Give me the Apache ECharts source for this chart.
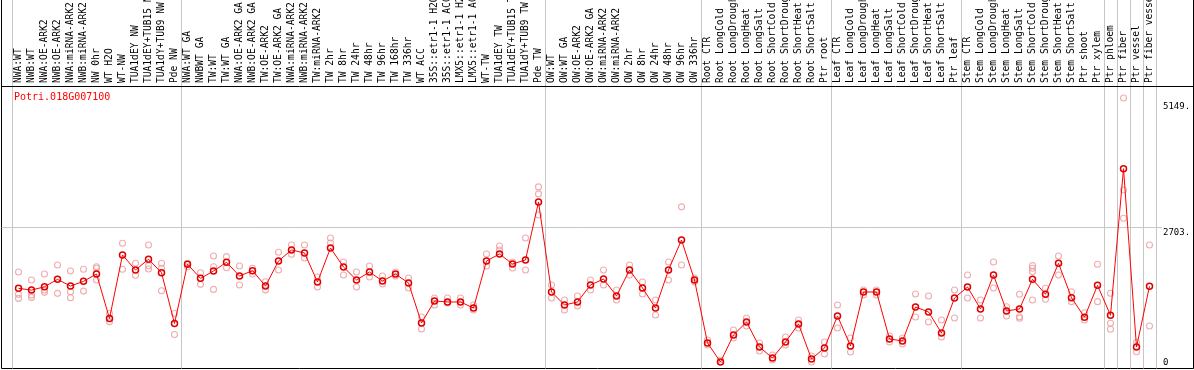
<!DOCTYPE html>
<html>
<head>
<meta charset="utf-8">
<script src="https://cdn.jsdelivr.net/npm/echarts@6/dist/echarts.min.js"></script>
<style>
  html, body { margin: 0; padding: 0; background: #fff; }
  #chart { width: 1194px; height: 370px; }
</style>
</head>
<body>
<div id="chart"></div>
<script>
// sample names, left to right
const categories = [
  'NWA:WT', 'NWB:WT', 'NWA:OE-ARK2', 'NWB:OE-ARK2', 'NWA:miRNA-ARK2', 'NWB:miRNA-ARK2',
  'NW 0hr', 'WT H2O', 'WT-NW', 'TUA1dEY NW', 'TUA1dEY+TUB15 NW', 'TUA1dY+TUB9 NW', 'Pde NW',
  'NWA:WT GA', 'NWBWT GA', 'TW:WT', 'TW:WT GA', 'NWA:OE-ARK2 GA', 'NWB:OE-ARK2 GA',
  'TW:OE-ARK2', 'TW:OE-ARK2 GA', 'NWA:miRNA-ARK2', 'NWB:miRNA-ARK2', 'TW:miRNA-ARK2',
  'TW 2hr', 'TW 8hr', 'TW 24hr', 'TW 48hr', 'TW 96hr', 'TW 168hr', 'TW 336hr', 'WT ACC',
  '35S::etr1-1 H2O', '35S::etr1-1 ACC', 'LMX5::etr1-1 H2O', 'LMX5::etr1-1 ACC', 'WT-TW',
  'TUA1dEY TW', 'TUA1dEY+TUB15 TW', 'TUA1dY+TUB9 TW', 'Pde TW',
  'OW:WT', 'OW:WT GA', 'OW:OE-ARK2', 'OW:OE-ARK2 GA', 'OW:miRNA-ARK2', 'OW:miRNA-ARK2',
  'OW 2hr', 'OW 8hr', 'OW 24hr', 'OW 48hr', 'OW 96hr', 'OW 336hr',
  'Root CTR', 'Root LongCold', 'Root LongDrought', 'Root LongHeat', 'Root LongSalt',
  'Root ShortCold', 'Root ShortDrought', 'Root ShortHeat', 'Root ShortSalt', 'Ptr root',
  'Leaf CTR', 'Leaf LongCold', 'Leaf LongDrought', 'Leaf LongHeat', 'Leaf LongSalt',
  'Leaf ShortCold', 'Leaf ShortDrought', 'Leaf ShortHeat', 'Leaf ShortSalt', 'Ptr leaf',
  'Stem CTR', 'Stem LongCold', 'Stem LongDrought', 'Stem LongHeat', 'Stem LongSalt',
  'Stem ShortCold', 'Stem ShortDrought', 'Stem ShortHeat', 'Stem ShortSalt', 'Ptr shoot', 'Ptr xylem',
  'Ptr phloem', 'Ptr fiber', 'Ptr vessel', 'Ptr fiber vessel'
];

// how many samples sit in each block between the grey separators
const groupSizes = [13, 28, 12, 10, 10, 11, 1, 1, 1, 1];

// mean expression (red line)
const means = [
  1487, 1452, 1519, 1668, 1533, 1628, 1775, 881, 2158, 1856, 2071, 1801, 781,
  1971, 1688, 1835, 2011, 1735, 1842, 1533, 2037, 2259, 2198, 1615, 2299, 1916, 1655, 1816, 1635, 1775, 1595,
  790, 1233, 1213, 1213, 1092, 2037, 2178, 1977, 2057, 3225,
  1414, 1152, 1213, 1555, 1675, 1333, 1856, 1494, 1092, 1856, 2459, 1655,
  389, 6, 549, 810, 308, 86, 408, 770, 66, 288,
  931, 328, 1414, 1414, 469, 428, 1112, 1012, 589, 1293,
  1514, 1072, 1756, 1032, 1072, 1669, 1367, 1991, 1299, 905, 1548,
  945, 3893, 308, 1528
];

// replicate values (pink circles), null where a sample has fewer replicates
const rep1 = [
  1815, 1654, 1775, 1956, 1835, 1870, 1922, 982, 2394, 1991, 2360, 1991, 982,
  1991, 1801, 2138, 2124, 1936, 1890, 1620, 2213, 2360, 2359, 1715, 2500, 2017, 1816, 1936, 1735, 1816, 1695,
  911, 1293, 1293, 1293, 1152, 2178, 2339, 2017, 2500, 3527,
  1555, 1253, 1333, 1655, 1856, 1454, 1956, 1615, 1253, 2017, 3126, 1695,
  448, 46, 650, 891, 388, 146, 509, 851, 126, 408,
  1152, 489, 1454, 1454, 529, 489, 1374, 1333, 851, 1454,
  1756, 1253, 2017, 1118, 1367, 1943, 1488, 2138, 1420, 997, 1971,
  1388, 5315, 402, 2359
];
const rep2 = [
  1366, 1351, 1452, 1386, 1418, 1432, 1890, 813, 1870, 1749, 1876, 1438, 559,
  1922, 1567, 1922, 1902, 1553, 1775, 1452, 1856, 2172, 2097, 1514, 2399, 1755, 1514, 1715, 1575, 1735, 1494,
  670, 1152, 1193, 1152, 1052, 1936, 2258, 1896, 1856, 3386,
  1293, 1052, 1132, 1454, 1555, 1253, 1755, 1374, 951, 1655, 1956, 1615,
  348, null, 489, 730, 227, 46, 348, 690, 6, 167,
  690, 207, 1353, 1353, 408, 368, 911, 810, 509, 891,
  1293, 891, 1494, 931, 917, 1890, 1267, 1756, 1219, 851, 1219,
  784, 3465, 213, 730
];
const rep3 = [
  1285, 1305, 1406, null, 1297, null, 1654, null, null, null, 1942, 1890, null,
  null, null, 1466, null, null, null, null, null, null, null, null, null, null, null, null, null, null, null,
  null, null, null, null, null, null, null, null, null, 2963,
  null, null, null, null, null, null, null, null, null, null, null, null,
  null, null, null, null, null, null, null, null, null, null,
  null, null, null, null, null, null, null, null, null, null,
  null, null, null, null, 885, 1822, null, null, null, null, null,
  664, 2896, null, null
];
const rep4 = categories.map((c, i) => (i === 78 ? 1253 : null));

// right-hand axis labels
const yTickValues = [0, 2703, 5149];
const yTickLabels = ['0', '2703.', '5149.'];
const gridLineValue = 2703;
const geneName = 'Potri.018G007100';

const mono = 'DejaVu Sans Mono';

// indexes where a new block starts
const groupStarts = new Set();
let acc = 0;
groupSizes.forEach(n => { groupStarts.add(acc); acc += n; });

const repStyle = {
  type: 'scatter',
  xAxisIndex: 0,
  yAxisIndex: 0,
  symbol: 'circle',
  symbolSize: 6,
  z: 2,
  itemStyle: { color: 'rgba(0,0,0,0)', borderColor: '#ea9a9c', borderWidth: 1.1 }
};

const chart = echarts.init(document.getElementById('chart'));
const option = {
  animation: false,
  textStyle: { fontFamily: mono },
  title: {
    text: geneName,
    left: 9,
    top: 87,
    textStyle: { color: '#ff0000', fontFamily: mono, fontSize: 10, fontWeight: 'normal' }
  },
  grid: [
    // plot area
    { left: 12, right: 38, top: 0, bottom: 1.5, outerBoundsMode: 'none', containLabel: false },
    // outer frame
    {
      left: 1.5, right: 0.5, top: -5, bottom: 1.5, outerBoundsMode: 'none', containLabel: false,
      show: true, borderColor: '#000', borderWidth: 1, backgroundColor: 'rgba(0,0,0,0)'
    }
  ],
  xAxis: [
    {
      type: 'category',
      gridIndex: 0,
      data: categories,
      position: 'top',
      offset: -86,
      axisLine: { show: false },
      axisTick: { show: false },
      axisLabel: { interval: 0, rotate: 90, margin: 3, color: '#000', fontFamily: mono, fontSize: 9.6 },
      splitLine: {
        show: true,
        interval: (i) => groupStarts.has(i),
        lineStyle: { color: '#c6c6c6', width: 1 }
      }
    },
    {
      type: 'value',
      gridIndex: 1,
      min: 0,
      max: 1,
      position: 'top',
      offset: -91,
      axisLine: { show: true, onZero: false, lineStyle: { color: '#000', width: 1 } },
      axisTick: { show: false },
      axisLabel: { show: false },
      splitLine: { show: false }
    }
  ],
  yAxis: [
    {
      type: 'value',
      gridIndex: 0,
      position: 'right',
      min: -125,
      max: 7286,
      axisLine: { show: false },
      axisTick: { show: false },
      splitLine: { show: false },
      axisLabel: {
        customValues: yTickValues,
        formatter: (v) => {
          const t = yTickLabels[yTickValues.indexOf(v)];
          return v === gridLineValue ? '{low|' + t + '}' : t;
        },
        rich: {
          low: { fontFamily: mono, fontSize: 9, color: '#000', padding: [10, 0, 0, 0] }
        },
        align: 'left',
        margin: 7,
        color: '#000',
        fontFamily: mono,
        fontSize: 9
      }
    },
    {
      type: 'value',
      gridIndex: 1,
      min: -135,
      max: 7386,
      show: false
    }
  ],
  series: [
    {
      // horizontal grey guide at the middle tick, across the frame
      type: 'line',
      xAxisIndex: 1,
      yAxisIndex: 1,
      data: [[0, gridLineValue], [0.9736, gridLineValue]],
      silent: true,
      symbol: 'none',
      z: 1,
      lineStyle: { color: '#c6c6c6', width: 1 }
    },
    Object.assign({ name: 'rep1', data: rep1 }, repStyle),
    Object.assign({ name: 'rep2', data: rep2 }, repStyle),
    Object.assign({ name: 'rep3', data: rep3 }, repStyle),
    Object.assign({ name: 'rep4', data: rep4 }, repStyle),
    {
      name: 'mean',
      type: 'line',
      xAxisIndex: 0,
      yAxisIndex: 0,
      data: means,
      z: 3,
      symbol: 'circle',
      symbolSize: 6,
      showAllSymbol: true,
      lineStyle: { color: '#ff0000', width: 1 },
      itemStyle: { color: 'rgba(0,0,0,0)', borderColor: '#e00000', borderWidth: 1.5 }
    }
  ]
};
chart.setOption(option);
</script>
</body>
</html>
